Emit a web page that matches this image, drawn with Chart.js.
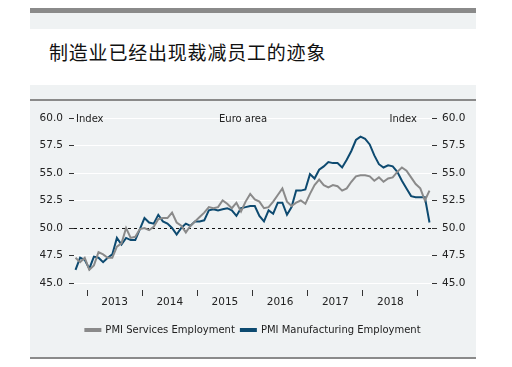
<!DOCTYPE html>
<html>
<head>
<meta charset="utf-8">
<script src="https://cdn.jsdelivr.net/npm/chart.js@4"></script>
<style>
  body { margin: 0; background: #fff; width: 512px; height: 367px; position: relative; overflow: hidden; }
  .abs { position: absolute; left: 30px; width: 446px; }
  #bar { top: 8px; height: 5px; background: #8a8a8a; }
  #band { top: 13px; height: 16px; background: #eff2f3; }
  #title { left: 49px; top: 42px; width: auto; font-family: "Noto Sans CJK SC", sans-serif; font-size: 19px; line-height: 19px; letter-spacing: 0.8px; color: #111; }
  #panel { top: 85px; height: 272px; background: #eff2f3; }
  #topline { top: 99px; height: 2px; background: #8a8a8a; }
  #botline { top: 357px; height: 2px; background: #8a8a8a; }
  #wrap { top: 101px; height: 256px; }
</style>
</head>
<body>
<div class="abs" id="bar"></div>
<div class="abs" id="band"></div>
<div class="abs" id="title">制造业已经出现裁减员工的迹象</div>
<div class="abs" id="panel"></div>
<div class="abs" id="topline"></div>
<div class="abs" id="botline"></div>
<div class="abs" id="wrap"><canvas id="euro"></canvas></div>
<script>
// Euro area PMI employment, monthly Oct 2012 - Mar 2019

var startYear = 2012, startMonth = 9; // October (0-based)
var years = [2013, 2014, 2015, 2016, 2017, 2018];
var yTicks = [45, 47.5, 50, 52.5, 55, 57.5, 60];

var services = [
  47.3, 46.9, 47.3,
  46.2, 46.6, 47.8, 47.6, 47.3, 47.3, 48.3, 48.6, 50.0, 49.1, 49.2, 49.9,
  50.0, 49.8, 50.1, 50.8, 50.9, 50.9, 51.4, 50.5, 50.2, 49.6, 50.2, 50.6,
  51.0, 51.4, 51.9, 51.8, 51.9, 52.5, 52.2, 51.8, 52.3, 51.5, 52.4, 53.1,
  52.6, 52.4, 51.8, 51.9, 52.4, 53.0, 53.6, 52.4, 52.0, 52.3, 52.5, 52.2,
  53.1, 53.9, 54.4, 53.9, 53.7, 53.9, 53.8, 53.4, 53.6, 54.2, 54.7, 54.8,
  54.8, 54.7, 54.3, 54.6, 54.2, 54.5, 54.6, 55.1, 55.5, 55.2, 54.6, 54.0,
  53.6, 52.5, 53.4
];

var manufacturing = [
  46.2, 47.3, 47.1,
  46.3, 47.4, 47.3, 46.9, 47.3, 47.6, 49.1, 48.5, 49.1, 48.9, 48.9, 49.9,
  50.9, 50.5, 50.4, 51.2, 50.6, 50.4, 50.0, 49.4, 50.0, 50.4, 50.2, 50.6,
  50.6, 50.7, 51.6, 51.7, 51.6, 51.7, 51.8, 51.6, 51.1, 51.8, 51.9, 52.0,
  52.0, 51.1, 50.6, 51.6, 51.3, 52.3, 52.3, 51.2, 51.9, 53.4, 53.4, 53.5,
  54.9, 54.5, 55.3, 55.6, 56.0, 55.9, 55.9, 55.5, 56.2, 57.0, 58.0, 58.3,
  58.1, 57.6, 56.6, 55.8, 55.5, 55.7, 55.6, 55.1, 54.3, 53.6, 52.9, 52.8,
  52.8, 52.8, 50.5
];

// month position on a year scale (middle of each month)
function monthX(i) {
  return startYear + (startMonth + i + 0.5) / 12;
}
function points(values) {
  return values.map(function (v, i) { return { x: monthX(i), y: v }; });
}

var xTicks = [];
years.forEach(function (y) { xTicks.push(y, y + 0.5); });
xTicks.push(years[years.length - 1] + 1);

var font = { family: 'DejaVu Sans', size: 10.5 };
var ink = '#222';

var cornerText = {
  id: 'cornerText',
  afterDraw: function (chart) {
    var a = chart.chartArea, c = chart.ctx;
    c.save();
    c.font = '10px "DejaVu Sans"';
    c.fillStyle = ink;
    c.textBaseline = 'middle';
    c.textAlign = 'left';
    c.fillText('Index', a.left + 2, a.top + 1);
    c.fillText('Euro area', a.left + 145, a.top + 1);
    c.textAlign = 'right';
    c.fillText('Index', a.right - 15, a.top + 1);
    c.restore();
  }
};

var ctx = document.getElementById('euro').getContext('2d');
var chart = new Chart(ctx, {
  type: 'line',
  data: {
    datasets: [{
      label: 'PMI Services Employment',
      data: points(services),
      borderColor: '#8a8a8a',
      backgroundColor: '#8a8a8a',
      borderWidth: 2,
      pointRadius: 0,
      tension: 0
    }, {
      label: 'PMI Manufacturing Employment',
      data: points(manufacturing),
      borderColor: '#0d4a70',
      backgroundColor: '#0d4a70',
      borderWidth: 2,
      pointRadius: 0,
      tension: 0
    }]
  },
  options: {
    responsive: true,
    maintainAspectRatio: false,
    animation: false,
    layout: { padding: { top: 17, bottom: 12, left: 0, right: 0 } },
    plugins: {
      tooltip: { enabled: false },
      legend: {
        position: 'bottom',
        labels: { font: { family: 'DejaVu Sans', size: 10 }, color: ink, boxWidth: 15, boxHeight: 2, padding: 6 }
      }
    },
    scales: {
      x: {
        type: 'linear',
        min: 2012.764,
        max: 2019.254,
        afterBuildTicks: function (s) { s.ticks = xTicks.map(function (v) { return { value: v }; }); },
        afterFit: function (s) { s.height = 29; },
        border: { display: false },
        grid: {
          drawOnChartArea: false,
          tickLength: 6,
          tickWidth: 1,
          tickColor: function (c) { return c.tick && Number.isInteger(c.tick.value) ? '#333' : 'rgba(0,0,0,0)'; }
        },
        ticks: {
          autoSkip: false,
          maxRotation: 0,
          padding: 0,
          font: font,
          color: ink,
          callback: function (v) { return Number.isInteger(v) ? '' : String(Math.floor(v)); }
        }
      },
      y: {
        position: 'left',
        min: 44.364,
        max: 60,
        afterBuildTicks: function (s) { s.ticks = yTicks.map(function (v) { return { value: v }; }); },
        afterFit: function (s) { s.width = 44; },
        border: {
          display: false,
          dash: function (c) { return c.tick && c.tick.value === 50 ? [3, 3] : []; }
        },
        grid: {
          color: function (c) { return c.tick && c.tick.value === 50 ? '#111' : '#ffffff'; },
          lineWidth: 1,
          tickLength: 5,
          tickColor: '#333'
        },
        ticks: {
          padding: 6,
          font: font,
          color: ink,
          callback: function (v) { return v.toFixed(1); }
        }
      },
      y2: {
        position: 'right',
        min: 44.364,
        max: 60,
        afterBuildTicks: function (s) { s.ticks = yTicks.map(function (v) { return { value: v }; }); },
        afterFit: function (s) { s.width = 44; },
        border: { display: false },
        grid: { drawOnChartArea: false, tickLength: 5, tickColor: '#333' },
        ticks: {
          padding: 5,
          font: font,
          color: ink,
          callback: function (v) { return v.toFixed(1); }
        }
      }
    }
  },
  plugins: [cornerText]
});
</script>
</body>
</html>
